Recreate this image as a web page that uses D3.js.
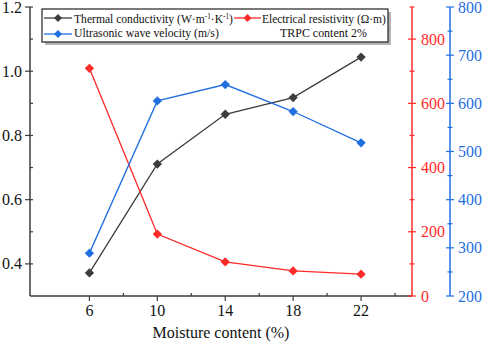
<!DOCTYPE html>
<html><head><meta charset="utf-8">
<script src="https://cdn.jsdelivr.net/npm/d3@7"></script>
<style>body{margin:0;background:#fff}svg{display:block;font-family:"Liberation Serif","Times New Roman",serif}</style>
</head><body><svg id="c" width="484" height="345"></svg>
<script>
const moisture = [6, 10, 14, 18, 22];
const thermal = [0.372, 0.711, 0.866, 0.918, 1.044];
const resistivity = [709, 193, 106, 78, 68];
const ultrasonic = [289, 605, 639, 583, 518];
const leftTicks = [0.4, 0.6, 0.8, 1.0, 1.2];
const redTicks = [0, 200, 400, 600, 800];
const blueTicks = [200, 300, 400, 500, 600, 700, 800];
const xTicks = [6, 10, 14, 18, 22];
const names = ["Thermal conductivity", "Electrical resistivity (Ω·m)", "Ultrasonic wave velocity (m/s)", "TRPC content 2%"];

const svg = d3.select("#c");
const L = 30, R = 412, T = 7, B = 296, RB = 450;
const x = d3.scaleLinear().domain([2.5, 25]).range([L, R]);
const yL = d3.scaleLinear().domain([0.3, 1.2]).range([B, T]);
const yR = d3.scaleLinear().domain([0, 900]).range([B, T]);
const yB = d3.scaleLinear().domain([200, 800]).range([B, T]);
const black = "#3c3c3c", red = "#ff2a2a", blue = "#1f6fe0";

// X axis
const gx = svg.append("g").attr("transform", `translate(0,${B})`);
gx.append("line").attr("x1", L).attr("x2", R).attr("stroke", black).attr("stroke-width", 1.5);
gx.selectAll(".maj").data(xTicks).join("line").attr("x1", d => x(d)).attr("x2", d => x(d)).attr("y1", 0).attr("y2", 5).attr("stroke", black).attr("stroke-width", 1.2);
gx.selectAll(".min").data([8, 12, 16, 20, 24]).join("line").attr("x1", d => x(d)).attr("x2", d => x(d)).attr("y1", 0).attr("y2", -3).attr("stroke", black).attr("stroke-width", 1.2);
gx.selectAll("text").data(xTicks).join("text").attr("x", d => x(d)).attr("y", 20).attr("text-anchor", "middle").attr("font-size", 16).attr("fill", "#111").text(d => d);
svg.append("text").attr("x", 221).attr("y", 338).attr("text-anchor", "middle").attr("font-size", 16).attr("fill", "#111").text("Moisture content (%)");

// Left axis
const gl = svg.append("g").attr("transform", `translate(${L},0)`);
gl.append("line").attr("y1", T).attr("y2", B).attr("stroke", black).attr("stroke-width", 1.5);
gl.selectAll(".maj").data(leftTicks).join("line").attr("x1", -5).attr("x2", 3).attr("y1", d => yL(d)).attr("y2", d => yL(d)).attr("stroke", black).attr("stroke-width", 1.2);
gl.selectAll(".min").data([0.5, 0.7, 0.9, 1.1]).join("line").attr("x1", 0).attr("x2", 3).attr("y1", d => yL(d)).attr("y2", d => yL(d)).attr("stroke", black).attr("stroke-width", 1.2);
gl.selectAll("text").data(leftTicks).join("text").attr("x", -8).attr("y", d => yL(d) + 5.5).attr("text-anchor", "end").attr("font-size", 16).attr("fill", "#111").text(d => d.toFixed(1));

// Red axis
const gr = svg.append("g").attr("transform", `translate(${R},0)`);
gr.append("line").attr("y1", T).attr("y2", B).attr("stroke", red).attr("stroke-width", 1.5);
gr.selectAll(".maj").data(redTicks).join("line").attr("x1", -4).attr("x2", 4).attr("y1", d => yR(d)).attr("y2", d => yR(d)).attr("stroke", red).attr("stroke-width", 1.2);
gr.selectAll(".min").data([100, 300, 500, 700, 900]).join("line").attr("x1", -2.5).attr("x2", 2.5).attr("y1", d => yR(d)).attr("y2", d => yR(d)).attr("stroke", red).attr("stroke-width", 1.2);
gr.selectAll("text").data(redTicks).join("text").attr("x", 9).attr("y", d => yR(d) + 5.5).attr("font-size", 16).attr("fill", red).text(d => d);

// Blue axis
const gb = svg.append("g").attr("transform", `translate(${RB},0)`);
gb.append("line").attr("y1", T).attr("y2", B).attr("stroke", blue).attr("stroke-width", 1.5);
gb.selectAll(".maj").data(blueTicks).join("line").attr("x1", -4).attr("x2", 4).attr("y1", d => yB(d)).attr("y2", d => yB(d)).attr("stroke", blue).attr("stroke-width", 1.2);
gb.selectAll(".min").data([250, 350, 450, 550, 650, 750]).join("line").attr("x1", -2.5).attr("x2", 2.5).attr("y1", d => yB(d)).attr("y2", d => yB(d)).attr("stroke", blue).attr("stroke-width", 1.2);
gb.selectAll("text").data(blueTicks).join("text").attr("x", 8).attr("y", d => yB(d) + 5.5).attr("font-size", 16).attr("fill", blue).text(d => d);

// Series
const diamond = d3.symbol().type(d3.symbolDiamond2).size(55);
function series(vals, y, color) {
  const pts = moisture.map((m, i) => [x(m), y(vals[i])]);
  svg.append("path").attr("d", d3.line()(pts)).attr("fill", "none").attr("stroke", color).attr("stroke-width", 1.3);
  svg.append("g").selectAll("path").data(pts).join("path").attr("transform", d => `translate(${d[0]},${d[1]})`).attr("d", diamond).attr("fill", color);
}
series(thermal, yL, black);
series(resistivity, yR, red);
series(ultrasonic, yB, blue);

// Legend
const lg = svg.append("g");
lg.append("rect").attr("x", 45).attr("y", 12).attr("width", 346).attr("height", 33).attr("fill", "#b4b4b4");
lg.append("rect").attr("x", 42).attr("y", 9).attr("width", 346).attr("height", 33).attr("fill", "#fff").attr("stroke", "#222").attr("stroke-width", 1.2);
function sample(x0, x1, y, color) {
  lg.append("line").attr("x1", x0).attr("x2", x1).attr("y1", y).attr("y2", y).attr("stroke", color).attr("stroke-width", 1.3);
  lg.append("path").attr("transform", `translate(${(x0 + x1) / 2},${y})`).attr("d", d3.symbol().type(d3.symbolDiamond2).size(40)).attr("fill", color);
}
sample(44, 72, 18, black);
sample(234, 261, 18, red);
sample(44, 72, 34, blue);
// fit a legend text to a target width by scaling its font size(s)
function fit(sel, target) {
  const w = sel.node().getBBox().width;
  const k = target / w;
  sel.attr("font-size", +sel.attr("font-size") * k);
  sel.selectAll("tspan").each(function () {
    const t = d3.select(this);
    if (t.attr("font-size")) t.attr("font-size", +t.attr("font-size") * k);
  });
}
const fs = 12;
const t1 = lg.append("text").attr("x", 74).attr("y", 23).attr("font-size", fs).attr("fill", "#111");
t1.append("tspan").text(names[0] + " (W·m");
t1.append("tspan").attr("dy", -4).attr("font-size", 7.5).text("-1");
t1.append("tspan").attr("dy", 4).text("·K");
t1.append("tspan").attr("dy", -4).attr("font-size", 7.5).text("-1");
t1.append("tspan").attr("dy", 4).text(")");
fit(t1, 159);
fit(lg.append("text").attr("x", 262).attr("y", 23).attr("font-size", fs).attr("fill", "#111").text(names[1]), 124);
fit(lg.append("text").attr("x", 74).attr("y", 37).attr("font-size", fs).attr("fill", "#111").text(names[2]), 145);
fit(lg.append("text").attr("x", 280).attr("y", 37).attr("font-size", fs).attr("fill", "#111").text(names[3]), 87);
</script></body></html>
